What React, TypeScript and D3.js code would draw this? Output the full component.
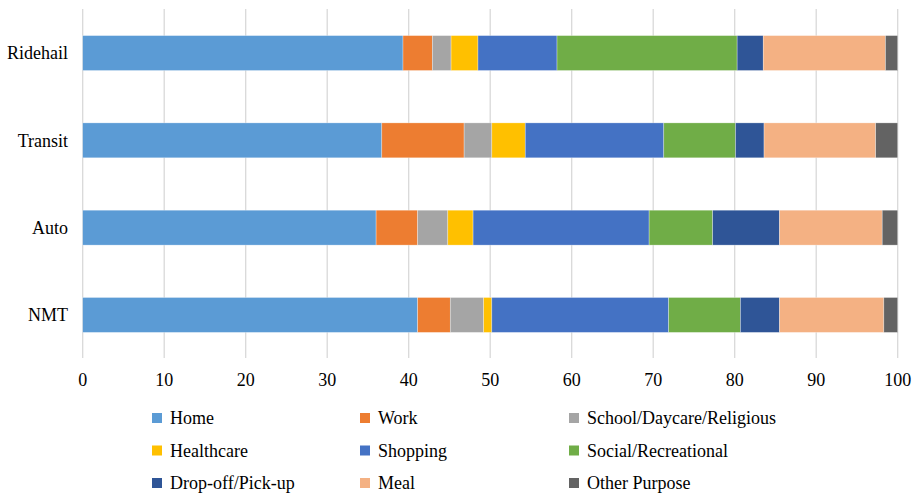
import React from "react";
import * as d3 from "d3";

const categories = ["Ridehail", "Transit", "Auto", "NMT"];
const purposes = [
  "Home",
  "Work",
  "School/Daycare/Religious",
  "Healthcare",
  "Shopping",
  "Social/Recreational",
  "Drop-off/Pick-up",
  "Meal",
  "Other Purpose",
];
const colors = ["#5B9BD5", "#ED7D31", "#A5A5A5", "#FFC000", "#4472C4", "#70AD47", "#2F5597", "#F4B183", "#636363"];

const ridehail = [39.3, 3.6, 2.3, 3.3, 9.7, 22.1, 3.2, 15.0, 1.5];
const transit = [36.7, 10.1, 3.4, 4.1, 17.0, 8.8, 3.5, 13.7, 2.7];
const auto = [36.0, 5.1, 3.7, 3.1, 21.6, 7.8, 8.2, 12.6, 1.9];
const nmt = [41.1, 4.0, 4.1, 1.0, 21.7, 8.8, 4.8, 12.8, 1.7];
const seriesByCategory = [ridehail, transit, auto, nmt];
const xTicks = [0, 10, 20, 30, 40, 50, 60, 70, 80, 90, 100];

const font = '"Liberation Serif", "Times New Roman", "DejaVu Serif", serif';
const textStyle = { fontFamily: font, fontSize: "18px" } as React.CSSProperties;

export default function App() {
  const W = 920, H = 494;
  const x = d3.scaleLinear().domain([0, 100]).range([82.7, 897.7]);
  const y = d3.scaleBand<string>().domain(categories).range([9.4, 358.6]).paddingInner(0.6).paddingOuter(0.3);

  const rows = seriesByCategory.map((vals) => {
    let acc = 0;
    return vals.map((v) => {
      const s = acc;
      acc += v;
      return [s, Math.min(acc, 100)];
    });
  });

  const legendCols = [157, 365, 574];
  const legendRows = [418, 450.5, 483];

  return (
    <svg width={W} height={H} style={{ position: "absolute", left: 0, top: 0, background: "#fff", fontFamily: font }}>
      <rect x={0} y={0} width={W} height={H} fill="#fff" />
      {xTicks.map((t) => (
        <line key={"g" + t} x1={x(t)} x2={x(t)} y1={9} y2={358} stroke="#d9d9d9" strokeWidth={1.3} />
      ))}
      {categories.map((c, i) => (
        <g key={c}>
          {rows[i].map(([s, e], j) => (
            <rect
              key={j}
              x={x(s)}
              y={y(c)}
              width={Math.max(0, x(e) - x(s))}
              height={y.bandwidth()}
              fill={colors[j]}
              stroke="#ffffff"
              strokeOpacity={0.5}
              strokeWidth={0.6}
            />
          ))}
          <text x={68} y={(y(c) as number) + y.bandwidth() / 2} dy="0.35em" textAnchor="end" style={textStyle} fill="#000">
            {c}
          </text>
        </g>
      ))}
      {xTicks.map((t) => (
        <text key={"t" + t} x={x(t)} y={386} textAnchor="middle" style={textStyle} fill="#000">
          {t}
        </text>
      ))}
      {purposes.map((p, i) => {
        const cx = legendCols[i % 3];
        const cy = legendRows[Math.floor(i / 3)];
        return (
          <g key={p}>
            <rect x={cx - 5} y={cy - 5} width={10} height={10} fill={colors[i]} />
            <text x={cx + 13} y={cy} dy="0.35em" style={textStyle} fill="#000">
              {p}
            </text>
          </g>
        );
      })}
    </svg>
  );
}
